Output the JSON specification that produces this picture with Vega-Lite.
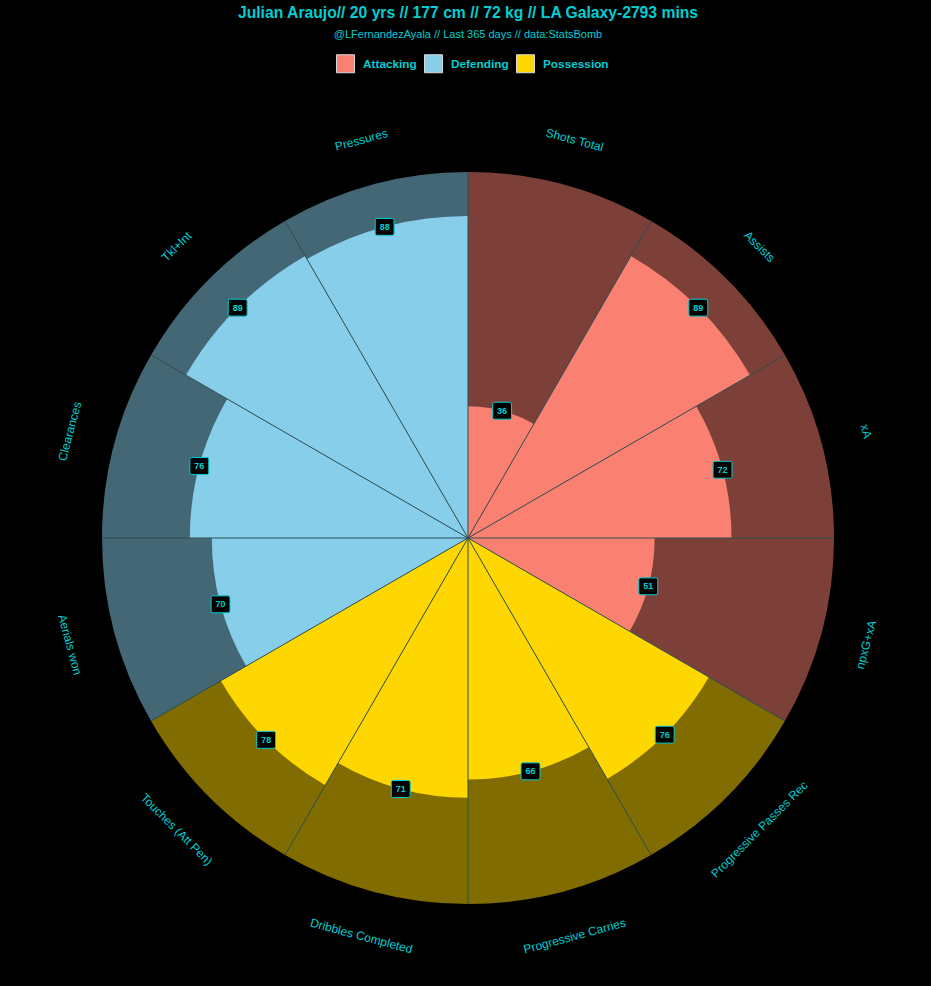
{
  "$schema": "https://vega.github.io/schema/vega-lite/v6.json",
  "width": 936,
  "height": 896,
  "autosize": "none",
  "padding": {"left": 0, "top": 90, "right": 0, "bottom": 0},
  "background": "black",
  "title": {
    "text": "Julian Araujo// 20 yrs // 177 cm // 72 kg // LA Galaxy-2793 mins",
    "subtitle": "@LFernandezAyala // Last 365 days // data:StatsBomb",
    "color": "#00CED1",
    "subtitleColor": "#00CED1",
    "font": "Liberation Sans",
    "subtitleFont": "Liberation Sans",
    "fontSize": 15.7,
    "subtitleFontSize": 11,
    "fontWeight": "bold",
    "anchor": "middle",
    "frame": "group",
    "offset": 13,
    "subtitlePadding": 7
  },
  "config": {"view": {"stroke": null}},
  "data": {
    "values": [
      {"k": 1, "label": "Shots Total", "value": 36, "group": "Attacking"},
      {"k": 2, "label": "Assists", "value": 89, "group": "Attacking"},
      {"k": 3, "label": "xA", "value": 72, "group": "Attacking"},
      {"k": 4, "label": "npxG+xA", "value": 51, "group": "Attacking"},
      {"k": 5, "label": "Progressive Passes Rec", "value": 76, "group": "Possession"},
      {"k": 6, "label": "Progressive Carries", "value": 66, "group": "Possession"},
      {"k": 7, "label": "Dribbles Completed", "value": 71, "group": "Possession"},
      {"k": 8, "label": "Touches (Att Pen)", "value": 78, "group": "Possession"},
      {"k": 9, "label": "Aerials won", "value": 70, "group": "Defending"},
      {"k": 10, "label": "Clearances", "value": 76, "group": "Defending"},
      {"k": 11, "label": "Tkl+Int", "value": 89, "group": "Defending"},
      {"k": 12, "label": "Pressures", "value": 88, "group": "Defending"}
    ]
  },
  "transform": [
    {"calculate": "(datum.k - 1) * 30", "as": "t0"},
    {"calculate": "datum.k * 30", "as": "t1"},
    {"calculate": "datum.t0 + 15", "as": "tm"},
    {"calculate": "datum.tm * PI / 180", "as": "rm"},
    {"calculate": "datum.t0 * PI / 180", "as": "r0"},
    {"calculate": "100", "as": "full"},
    {"calculate": "112.6", "as": "lr"},
    {"calculate": "0", "as": "origin"},
    {"calculate": "datum.value * sin(datum.rm)", "as": "bx"},
    {"calculate": "datum.value * cos(datum.rm)", "as": "by"},
    {"calculate": "100 * sin(datum.r0)", "as": "sx"},
    {"calculate": "100 * cos(datum.r0)", "as": "sy"},
    {"calculate": "datum.tm <= 90 ? datum.tm : (datum.tm < 270 ? datum.tm - 180 : datum.tm - 360)", "as": "rot"}
  ],
  "layer": [
    {
      "mark": {"type": "arc", "fillOpacity": 0.5},
      "encoding": {
        "theta": {"field": "t0", "type": "quantitative", "scale": {"domain": [0, 360], "range": [0, 6.283185307179586]}},
        "theta2": {"field": "t1"},
        "radius": {"field": "full", "type": "quantitative", "scale": {"type": "linear", "domain": [0, 100], "range": [0, 366], "zero": true}},
        "color": {
          "field": "group",
          "type": "nominal",
          "scale": {"domain": ["Attacking", "Defending", "Possession"], "range": ["#FA8072", "#87CEEB", "#FFD700"]},
          "legend": {
            "title": null,
            "orient": "none",
            "legendX": 336,
            "legendY": -36,
            "direction": "horizontal",
            "symbolType": "square",
            "symbolSize": 324,
            "symbolOpacity": 1,
            "symbolStrokeColor": "#D8D8D8",
            "symbolStrokeWidth": 1,
            "labelColor": "#00CED1",
            "labelFont": "Liberation Sans",
            "labelFontSize": 11.8,
            "labelFontWeight": "bold",
            "labelOffset": 8,
            "columnPadding": 5,
            "padding": 0
          }
        }
      }
    },
    {
      "mark": {"type": "arc"},
      "encoding": {
        "theta": {"field": "t0", "type": "quantitative"},
        "theta2": {"field": "t1"},
        "radius": {"field": "value", "type": "quantitative"},
        "color": {"field": "group", "type": "nominal"}
      }
    },
    {
      "mark": {"type": "rule", "color": "#2F4F4F", "strokeWidth": 1},
      "encoding": {
        "x": {"field": "origin", "type": "quantitative", "scale": {"domain": [-127.869, 127.869], "nice": false, "zero": false}, "axis": null},
        "y": {"field": "origin", "type": "quantitative", "scale": {"domain": [-122.404, 122.404], "nice": false, "zero": false}, "axis": null},
        "x2": {"field": "sx"},
        "y2": {"field": "sy"}
      }
    },
    {
      "mark": {"type": "point", "shape": "M-0.85,-0.94 L0.85,-0.94 Q1.05,-0.94 1.05,-0.74 L1.05,0.74 Q1.05,0.94 0.85,0.94 L-0.85,0.94 Q-1.05,0.94 -1.05,0.74 L-1.05,-0.74 Q-1.05,-0.94 -0.85,-0.94 Z", "filled": true, "fill": "black", "fillOpacity": 1, "stroke": "#00CED1", "strokeWidth": 1, "size": 324},
      "encoding": {
        "x": {"field": "bx", "type": "quantitative"},
        "y": {"field": "by", "type": "quantitative"}
      }
    },
    {
      "mark": {"type": "text", "color": "#00CED1", "font": "Liberation Sans", "fontSize": 9, "fontWeight": "bold", "align": "center", "baseline": "middle"},
      "encoding": {
        "x": {"field": "bx", "type": "quantitative"},
        "y": {"field": "by", "type": "quantitative"},
        "text": {"field": "value", "type": "quantitative"}
      }
    },
    {
      "mark": {"type": "text", "color": "#00CED1", "font": "Liberation Sans", "fontSize": 12, "align": "center", "baseline": "middle"},
      "encoding": {
        "theta": {"field": "tm", "type": "quantitative"},
        "radius": {"field": "lr", "type": "quantitative"},
        "angle": {"field": "rot", "type": "quantitative", "scale": null},
        "text": {"field": "label", "type": "nominal"}
      }
    }
  ]
}
